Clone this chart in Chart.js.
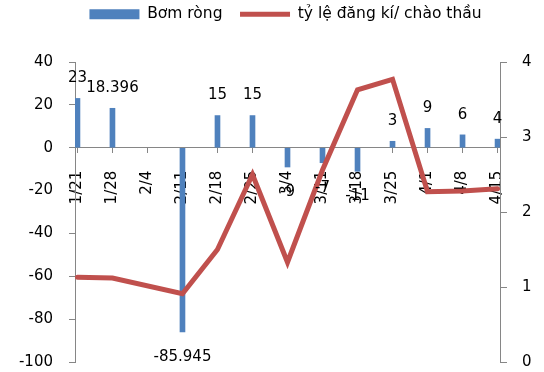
<!DOCTYPE html>
<html>
<head>
<meta charset="utf-8">
<script src="https://cdn.jsdelivr.net/npm/chart.js@4.4.1/dist/chart.umd.min.js"></script>
<style>
  html, body { margin: 0; padding: 0; background: #fff; }
  canvas { display: block; }
</style>
</head>
<body>
<canvas id="chart" width="544" height="372"></canvas>
<script>
// Weekly auction dates
const categories = ['1/21', '1/28', '2/4', '2/11', '2/18', '2/25', '3/4', '3/11', '3/18', '3/25', '4/1', '4/8', '4/15'];
// Net injection (left axis)
const netPump = [23, 18.396, null, -85.945, 15, 15, -9, -7, -11, 3, 9, 6, 4];
// Bid-to-offer ratio (right axis)
const bidRatio = [1.13, 1.12, null, 0.91, 1.5, 2.5, 1.33, 2.56, 3.63, 3.77, 2.27, 2.28, 2.31];
// Axis ticks
const leftTicks = { min: -100, max: 40, step: 20 };
const rightTicks = { min: 0, max: 4, step: 1 };

const seriesNames = ['Bơm ròng', 'tỷ lệ đăng kí/ chào thầu'];

const FONT = "'DejaVu Sans', sans-serif";
const AXIS_GREY = '#868686';
Chart.defaults.font.family = FONT;
Chart.defaults.font.size = 15;
Chart.defaults.color = '#000';

// Value labels above / below each bar
const valueLabels = {
  id: 'valueLabels',
  afterDatasetsDraw(chart) {
    const meta = chart.getDatasetMeta(0);
    const ctx = chart.ctx;
    ctx.save();
    ctx.font = '15px ' + FONT;
    ctx.fillStyle = '#000';
    ctx.textAlign = 'center';
    ctx.textBaseline = 'middle';
    meta.data.forEach((bar, i) => {
      const v = netPump[i];
      if (v === null || v === undefined) return;
      const top = Math.min(bar.y, bar.base);
      const bottom = Math.max(bar.y, bar.base);
      const y = v >= 0 ? top - 20 : bottom + 25;
      ctx.fillText(String(v), bar.x, y);
    });
    ctx.restore();
  }
};

const toPoints = (arr) => arr.map((v, i) => ({ x: i, y: v }));

// Tick marks are drawn long (to push the labels out) but only
// their part next to the axis line is visible.
const Y_LABEL_GAP = 22;
const X_LABEL_GAP = 23;

new Chart(document.getElementById('chart'), {
  type: 'bar',
  data: {
    datasets: [
      {
        type: 'bar',
        label: seriesNames[0],
        data: toPoints(netPump),
        yAxisID: 'y',
        backgroundColor: '#4F81BD',
        borderWidth: 0,
        barThickness: 5,
        pointStyle: 'rect',
        order: 1
      },
      {
        type: 'line',
        label: seriesNames[1],
        data: toPoints(bidRatio),
        yAxisID: 'y1',
        borderColor: '#C0504D',
        backgroundColor: '#C0504D',
        borderWidth: 5,
        borderCapStyle: 'round',
        pointRadius: 0,
        pointHoverRadius: 0,
        pointStyle: 'line',
        tension: 0,
        spanGaps: true,
        order: 0
      }
    ]
  },
  options: {
    responsive: false,
    animation: false,
    devicePixelRatio: 1,
    layout: { padding: { top: -11, left: 0, right: -27, bottom: 10 } },
    plugins: {
      tooltip: { enabled: false },
      legend: {
        display: true,
        position: 'top',
        labels: {
          usePointStyle: true,
          pointStyleWidth: 50,
          boxHeight: 10,
          padding: 17.5,
          color: '#000',
          font: { size: 15.5, family: FONT },
          sort: (a, b) => a.datasetIndex - b.datasetIndex
        }
      },
      title: {
        display: true,
        text: '',
        weight: 500,
        padding: 0,
        font: { size: 30, lineHeight: 1 }
      }
    },
    scales: {
      x: {
        type: 'linear',
        position: { y: 0 },
        offset: false,
        min: -0.07,
        max: categories.length - 1 + 0.07,
        afterBuildTicks: (scale) => {
          scale.ticks = categories.map((_, i) => ({ value: i }));
        },
        ticks: {
          autoSkip: false,
          minRotation: 90,
          maxRotation: 90,
          padding: 0,
          color: '#000',
          font: { size: 15, family: FONT },
          callback: (v) => categories[v]
        },
        grid: {
          offset: false,
          drawOnChartArea: false,
          drawTicks: true,
          tickLength: X_LABEL_GAP,
          tickBorderDash: [5, 100],
          color: AXIS_GREY
        },
        border: { display: true, color: AXIS_GREY, width: 1 }
      },
      y: {
        type: 'linear',
        position: 'left',
        min: leftTicks.min,
        max: leftTicks.max,
        afterFit: (scale) => { scale.width = 75; },
        ticks: { stepSize: leftTicks.step, padding: 0, color: '#000', font: { size: 15, family: FONT } },
        grid: {
          drawOnChartArea: false,
          tickLength: Y_LABEL_GAP,
          tickBorderDash: [0, Y_LABEL_GAP - 6, 6, 100],
          color: AXIS_GREY
        },
        border: { display: true, color: AXIS_GREY, width: 1 }
      },
      y1: {
        type: 'linear',
        position: 'right',
        min: rightTicks.min,
        max: rightTicks.max,
        afterFit: (scale) => { scale.width = 71; },
        ticks: { stepSize: rightTicks.step, padding: 0, color: '#000', font: { size: 15, family: FONT } },
        grid: {
          drawOnChartArea: false,
          tickLength: Y_LABEL_GAP,
          tickBorderDash: [6, 100],
          color: AXIS_GREY
        },
        border: { display: true, color: AXIS_GREY, width: 1 }
      }
    }
  },
  plugins: [valueLabels]
});
</script>
</body>
</html>
